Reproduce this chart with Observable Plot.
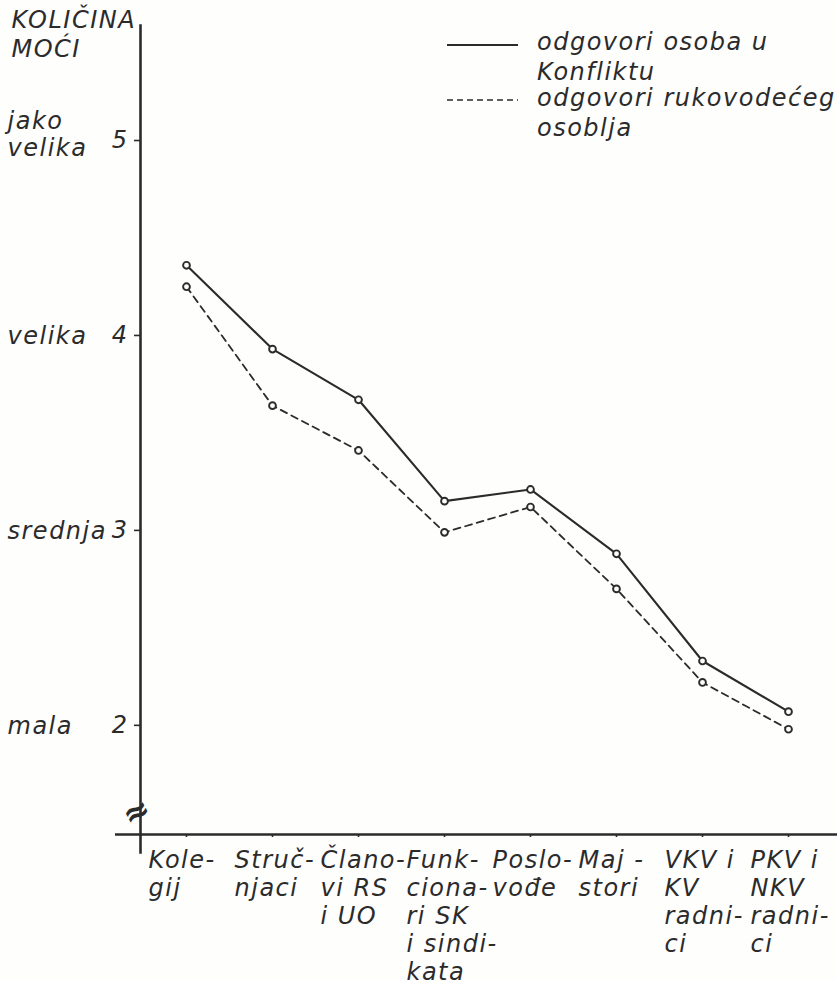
<!DOCTYPE html>
<html>
<head>
<meta charset="utf-8">
<script src="https://cdn.jsdelivr.net/npm/d3@7"></script>
<script src="https://cdn.jsdelivr.net/npm/@observablehq/plot@0.6"></script>
<style>
  body { margin: 0; background: #fefefd; }
  #wrap { position: relative; width: 837px; height: 981px; overflow: hidden;
          font-family: "DejaVu Sans"; font-style: italic; color: #2b2b2b; letter-spacing: 1.5px; }
  .lg-text { position: absolute; font-size: 24px; line-height: 30px; white-space: pre; }
  .lg-line { position: absolute; }
</style>
</head>
<body>
<div id="wrap"></div>
<script>
// ---- data ----
const categories = ["Kolegij", "Stručnjaci", "Članovi RS i UO", "Funkcionari SK i sindikata",
                    "Poslovođe", "Majstori", "VKV i KV radnici", "PKV i NKV radnici"];
const tickLabels = ["Kole-\ngij", "Struč-\nnjaci", "Člano-\nvi RS\ni UO", "Funk-\nciona-\nri SK\ni sindi-\nkata",
                    "Poslo-\nvođe", "Maj -\nstori", "VKV i\nKV\nradni-\nci", "PKV i\nNKV\nradni-\nci"];
const konflikt    = [4.36, 3.93, 3.67, 3.15, 3.21, 2.88, 2.33, 2.07];
const rukovodece  = [4.25, 3.64, 3.41, 2.99, 3.12, 2.70, 2.22, 1.98];
const yTicks      = [2, 3, 4, 5];
const yTickNames  = ["mala", "srednja", "velika", "jako\nvelika"];
const yTitle      = "KOLIČINA\nMOĆI";
const seriesNames = ["odgovori osoba u\nKonfliktu", "odgovori rukovodećeg\nosoblja"];
const yDomain     = [1.44, 5.59];

// ---- build ----
const ink = "#2b2b2b";
const labelOf = new Map(categories.map((c, i) => [c, tickLabels[i]]));
const nameOf = new Map(yTicks.map((t, i) => [t, yTickNames[i]]));
const rowsA = categories.map((c, i) => ({category: c, value: konflikt[i]}));
const rowsB = categories.map((c, i) => ({category: c, value: rukovodece[i]}));
const singleLine = yTicks.filter(t => !nameOf.get(t).includes("\n"));
const doubleLine = yTicks.filter(t => nameOf.get(t).includes("\n"));
const fs = 24;
const wordOpts = {frameAnchor: "left", dx: -133, textAnchor: "start", lineAnchor: "middle",
                  lineHeight: 1.15, fontSize: fs, fontStyle: "italic", fill: ink};

const chart = Plot.plot({
  width: 837,
  height: 981,
  marginLeft: 140,
  marginRight: 0,
  marginTop: 25,
  marginBottom: 147,
  style: {fontFamily: "DejaVu Sans", fontStyle: "italic", color: ink, background: "transparent", letterSpacing: "1.5px"},
  x: {type: "point", domain: categories, padding: 0.546, align: 0.48},
  y: {domain: yDomain},
  marks: [
    Plot.frame({anchor: "left", stroke: ink, strokeWidth: 2.6, insetBottom: -18}),
    Plot.ruleY([yDomain[0]], {stroke: ink, strokeWidth: 2.6, insetLeft: -25}),
    Plot.axisY({ticks: yTicks, tickFormat: d => String(d), tickSize: 6, tickPadding: 6, fontSize: fs, fontStyle: "italic",
                label: null, stroke: ink, strokeWidth: 1.6}),
    // x ticks only
    Plot.axisX({tickFormat: () => "", tickSize: 3, label: null, stroke: ink, strokeWidth: 1.6}),
    // x tick labels, set left of each tick
    Plot.axisX({tickFormat: d => labelOf.get(d), tickSize: 0, tickPadding: 14, textAnchor: "start", dx: -38,
                lineHeight: 1.167, fontSize: fs, fontStyle: "italic", label: null}),
    Plot.text(singleLine, {y: d => d, text: d => nameOf.get(d), ...wordOpts}),
    Plot.text(doubleLine, {y: d => d, text: d => nameOf.get(d), ...wordOpts, dy: -7}),
    Plot.text([yTitle], {frameAnchor: "top-left", dx: -129, dy: -18, textAnchor: "start", lineAnchor: "top",
                         lineHeight: 1.2, fontSize: fs, fontStyle: "italic", fill: ink}),
    Plot.text(["≈"], {frameAnchor: "bottom-left", dx: -11, dy: -7, fontSize: 32, fontWeight: "bold", rotate: -28,
                      fill: ink, fontStyle: "normal"}),
    Plot.line(rowsA, {x: "category", y: "value", stroke: ink, strokeWidth: 2.1}),
    Plot.line(rowsB, {x: "category", y: "value", stroke: ink, strokeWidth: 1.8, strokeDasharray: "7,5"}),
    Plot.dot(rowsA, {x: "category", y: "value", r: 3.4, fill: "#fefefd", stroke: ink, strokeWidth: 1.9}),
    Plot.dot(rowsB, {x: "category", y: "value", r: 3.4, fill: "#fefefd", stroke: ink, strokeWidth: 1.9})
  ]
});

const wrap = document.getElementById("wrap");
wrap.appendChild(chart);

// ---- legend (HTML overlay) ----
const legendItems = [
  {name: seriesNames[0], dash: null, lineY: 45, textTop: 27},
  {name: seriesNames[1], dash: "6,4", lineY: 100, textTop: 83}
];
for (const it of legendItems) {
  const svg = document.createElementNS("http://www.w3.org/2000/svg", "svg");
  svg.setAttribute("class", "lg-line");
  svg.setAttribute("width", 72);
  svg.setAttribute("height", 6);
  svg.style.left = "447px";
  svg.style.top = (it.lineY - 3) + "px";
  const ln = document.createElementNS("http://www.w3.org/2000/svg", "line");
  ln.setAttribute("x1", 0); ln.setAttribute("x2", 71);
  ln.setAttribute("y1", 3); ln.setAttribute("y2", 3);
  ln.setAttribute("stroke", ink);
  ln.setAttribute("stroke-width", it.dash ? 1.6 : 2);
  if (it.dash) ln.setAttribute("stroke-dasharray", it.dash);
  svg.appendChild(ln);
  wrap.appendChild(svg);
  const t = document.createElement("div");
  t.className = "lg-text";
  t.style.left = "537px";
  t.style.top = it.textTop + "px";
  t.textContent = it.name;
  wrap.appendChild(t);
}
</script>
</body>
</html>
